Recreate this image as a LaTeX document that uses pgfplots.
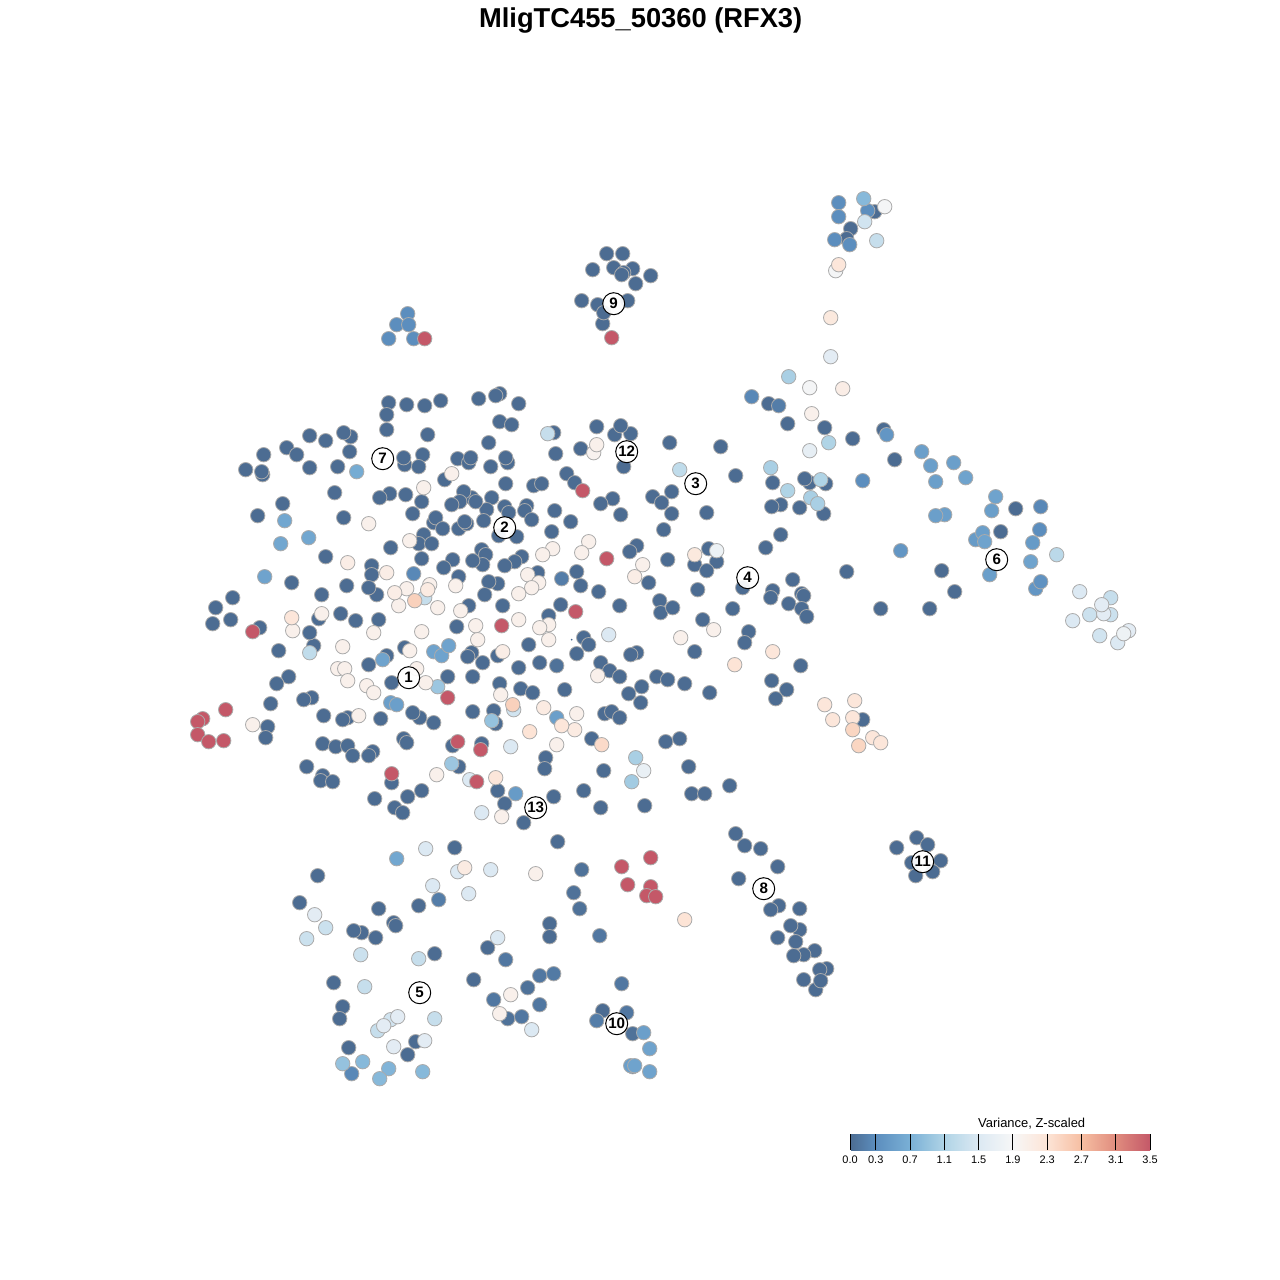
\documentclass[border=0pt]{standalone}
\usepackage{fontspec}
\setmainfont{Liberation Sans}
\usepackage{pgfplots}
\usepackage{pgfplotstable}
\pgfplotsset{compat=1.18}
\pgfplotstableread{
x y v
606 253 0
622 253 0
592 269 0
613 267 0
632 268 0
623 272 0
621 274 0
650 275 0
635 283 0
581 300 0
597 304 0
627 300 0
602 323 0
603 312 0
874 211 0
850 228 0
846 238 0
768 403 0
787 423 0
824 427 0
852 438 0
883 429 0
894 459 0
772 482 0
809 482 0
825 483 0
804 478 0
780 504 0
771 506 0
799 507 0
823 513 0
780 534 0
765 547 0
1015 508 0
1000 531 0
846 571 0
941 570 0
954 591 0
792 579 0
772 590 0
770 597 0
801 593 0
803 595 0
788 603 0
801 608 0
806 616 0
880 608 0
929 608 0
742 587 0
748 631 0
744 642 0
518 403 0
499 393 0
495 395 0
478 398 0
499 421 0
511 424 0
488 442 0
553 432 0
596 426 0
614 434 0
630 433 0
620 425 0
580 448 0
555 453 0
669 442 0
720 446 0
490 466 0
507 462 0
505 457 0
623 466 0
566 473 0
574 482 0
735 475 0
505 483 0
533 485 0
541 483 0
671 491 0
652 496 0
661 502 0
612 498 0
600 503 0
491 497 0
504 506 0
508 512 0
526 505 0
524 510 0
554 510 0
620 514 0
671 513 0
706 512 0
486 509 0
483 520 0
570 521 0
531 519 0
663 529 0
551 531 0
516 536 0
498 535 0
636 545 0
629 551 0
708 548 0
667 559 0
694 564 0
716 561 0
706 570 0
521 556 0
514 561 0
504 565 0
481 549 0
485 554 0
482 564 0
472 560 0
537 572 0
576 571 0
580 585 0
598 591 0
648 582 0
497 583 0
488 581 0
484 594 0
697 589 0
659 600 0
660 612 0
672 607 0
732 608 0
619 605 0
560 604 0
548 615 0
502 605 0
702 619 0
583 637 0
588 644 0
528 644 0
576 653 0
636 652 0
630 654 0
694 651 0
497 655 0
518 667 0
539 662 0
556 665 0.05
600 662 0
609 670 0
619 676 0
800 665 0
656 676 0
667 679 0
684 683 0
641 686 0
628 693 0
640 702 0
709 692 0
771 680 0
786 689 0
775 698 0
499 683 0
520 688 0
532 692 0
564 689 0
493 710 0
604 713 0
611 711 0
619 717 0
388 402 0
406 404 0
424 405 0
440 400 0
386 414 0
386 429 0
427 434 0
309 435 0
325 440 0
350 436 0
343 432 0
286 447 0
296 454 0
263 454 0
349 451 0
337 466 0
309 467 0
245 469 0
262 474 0
261 471 0
404 464 0
403 457 0
422 454 0
418 466 0
457 458 0
468 462 0
470 457 0
444 479 0
334 492 0
389 493 0
379 497 0
405 494 0
421 501 0
471 497 0
463 491 0
475 501 0
459 501 0
451 504 0
282 503 0
257 515 0
343 517 0
412 513 0
433 522 0
435 517 0
442 528 0
458 528 0
466 523 0
464 521 0
390 547 0
423 534 0
418 543 0
431 543 0
325 556 0
421 558 0
452 559 0
443 567 0
458 576 0
371 565 0
371 574 0
291 582 0
346 585 0
376 594 0
368 587 0
321 594 0
468 605 0
232 597 0
215 607 0
230 619 0
212 623 0
340 613 0
355 620 0
378 619 0
318 618 0
259 627 0
313 645 0
309 632 0
278 650 0
456 626 0
404 647 0
386 655 0
368 664 0
288 676 0
276 683 0
391 682 0
447 676 0
472 676 0
482 662 0
471 652 0
467 656 0
270 703 0
311 697 0
303 699 0
323 715 0
347 717 0
342 719 0
380 718 0
419 717 0
412 712 0
433 722 0
472 711 0
267 726 0
265 737 0
322 743 0
335 746 0
347 745 0
352 755 0
372 751 0
368 755 0
403 738 0
406 742 0
306 766 0
322 775 0
320 780 0
332 781 0
391 782 0
374 798 0
407 796 0
421 790 0
394 807 0
402 812 0
452 745 0
481 743 0
458 766 0
495 723 0
591 738 0
545 757 0
544 768 0
665 741 0
679 738 0
603 770 0
688 766 0
497 790 0
583 790 0
691 793 0
704 793 0
600 807 0
644 805 0
553 796 0
504 803 0
523 822 0
557 841 0
729 785 0
454 847 0
581 869 0.05
573 892 0.05
579 908 0.05
317 875 0
299 902 0
378 908 0
418 905 0
361 932 0
353 930 0
375 937 0
393 922 0
395 925 0
434 953 0
487 947 0
549 923 0
549 936 0
505 959 0.1
333 982 0
473 979 0
342 1006 0
339 1018 0
539 975 0.1
553 973 0.12
527 987 0.05
493 999 0.1
539 1004 0.1
507 1018 0.05
521 1016 0.1
415 1041 0
407 1054 0
348 1047 0
599 935 0.1
621 983 0.1
602 1010 0
626 1012 0.1
632 1033 0.05
632 1066 0
862 719 0
735 833 0
744 845 0
760 848 0
777 866 0
738 878 0
778 905 0
770 909 0
799 908 0
799 929 0
790 925 0
777 937 0
795 941 0
814 950 0
803 954 0
793 955 0
826 968 0
819 969 0
803 979 0
815 989 0
820 980 0
896 847 0
916 837 0
927 844 0
940 860 0
911 862 0
932 871 0
915 875 0
438 899 0.15
596 1020 0.15
351 1073 0.25
413 573 0.25
561 578 0.15
778 405 0.15
751 396 0.25
849 244 0.3
834 239 0.3
838 202 0.3
838 216 0.3
867 210 0.3
407 313 0.3
396 324 0.3
408 324 0.3
388 338 0.3
413 338 0.3
862 480 0.3
1040 506 0.25
1039 529 0.3
1035 588 0.4
1040 581 0.35
886 434 0.4
900 550 0.4
975 539 0.45
1032 542 0.45
515 793 0.45
921 451 0.5
930 465 0.5
953 462 0.5
935 481 0.5
944 514 0.5
935 515 0.5
991 510 0.5
982 532 0.5
989 574 0.5
556 717 0.5
390 702 0.5
396 704 0.5
630 1065 0.5
643 1032 0.5
264 576 0.55
965 477 0.55
995 496 0.55
984 541 0.55
1030 561 0.55
433 651 0.55
441 655 0.55
448 645 0.55
382 659 0.55
634 1065 0.55
649 1048 0.55
649 1071 0.55
284 520 0.6
280 543 0.6
308 537 0.6
396 858 0.6
356 471 0.65
388 1068 0.75
362 1061 0.8
863 198 0.8
379 1078 0.8
422 1071 0.8
491 720 0.9
342 1063 0.9
451 763 0.95
437 686 0.95
631 781 1.0
635 757 1.05
788 376 1.05
770 467 1.05
810 497 1.05
817 503 1.05
787 490 1.1
820 479 1.1
828 442 1.1
1056 554 1.2
679 469 1.25
309 652 1.25
876 240 1.3
547 433 1.3
424 597 1.3
418 958 1.3
364 986 1.3
434 1018 1.3
377 1030 1.3
1110 597 1.3
1110 614 1.35
1089 614 1.35
325 927 1.35
306 938 1.35
360 954 1.35
864 221 1.4
513 709 1.4
390 1019 1.4
1099 635 1.4
1079 591 1.5
1072 620 1.5
1117 642 1.5
608 634 1.5
510 746 1.5
469 779 1.5
481 812 1.5
425 848 1.5
457 871 1.5
490 869 1.5
432 885 1.5
468 893 1.5
497 937 1.5
531 1029 1.5
830 356 1.6
1103 613 1.6
1101 604 1.6
1128 630 1.6
314 914 1.6
397 1016 1.6
383 1025 1.6
393 1046 1.6
424 1040 1.6
809 450 1.65
643 770 1.7
1123 633 1.75
716 550 1.75
835 270 1.85
809 387 1.85
884 206 1.85
593 452 2.0
423 487 2.05
451 473 2.05
368 523 2.05
409 540 2.05
552 548 2.05
542 554 2.05
588 541 2.05
581 552 2.05
527 574 2.05
538 582 2.05
531 587 2.05
518 593 2.05
455 585 2.05
429 584 2.05
406 588 2.05
398 605 2.05
437 607 2.05
460 610 2.05
321 613 2.05
292 630 2.05
373 632 2.05
421 631 2.05
342 646 2.05
475 625 2.05
477 639 2.05
518 619 2.05
548 624 2.05
539 627 2.05
548 639 2.05
409 650 2.05
416 668 2.05
337 668 2.05
344 668 2.05
347 680 2.05
366 685 2.05
373 692 2.05
425 682 2.05
500 694 2.05
252 724 2.05
358 715 2.05
597 675 2.05
642 564 2.05
680 637 2.05
713 629 2.05
576 713 2.05
556 744 2.05
436 774 2.05
501 816 2.05
535 873 2.05
510 994 2.05
499 1013 2.05
596 444 2.05
811 413 2.05
842 388 2.1
347 562 2.1
386 572 2.1
634 576 2.1
502 651 2.1
394 592 2.1
427 589 2.15
543 707 2.15
574 729 2.15
464 867 2.15
694 554 2.2
830 317 2.2
838 264 2.25
291 617 2.25
772 651 2.25
561 725 2.25
495 777 2.25
824 704 2.25
854 700 2.25
832 719 2.25
852 717 2.25
872 737 2.25
880 742 2.25
529 731 2.3
684 919 2.3
734 664 2.3
601 744 2.4
852 729 2.45
858 745 2.45
414 600 2.5
512 704 2.5
424 338 3.5
611 337 3.5
582 490 3.5
606 558 3.5
575 611 3.5
501 625 3.5
252 631 3.5
447 697 3.5
225 709 3.5
202 718 3.5
197 721 3.5
197 734 3.5
208 741 3.5
223 740 3.5
391 773 3.5
457 741 3.5
480 749 3.5
476 781 3.5
621 866 3.5
650 857 3.5
627 884 3.5
650 886 3.5
646 895 3.5
655 896 3.5
}\cells
\pgfplotstableread{
x y n
408 677 1
504 527 2
695 483 3
747 577 4
419 992 5
996 559 6
382 458 7
763 888 8
613 303 9
616 1023 10
922 861 11
626 451 12
535 807 13
}\labelstable
\begin{document}
\begin{tikzpicture}
\useasboundingbox (0,0) rectangle (640bp,640bp);
\begin{axis}[
  at={(0,0)}, anchor=south west,
  scale only axis, width=640bp, height=640bp,
  xmin=-0.7, xmax=1279.3, ymin=-0.7, ymax=1279.3, y dir=reverse,
  hide axis, clip=false,
  colormap={rvar}{
    rgb255(0)=(76,108,146) rgb255(3)=(92,142,190) rgb255(7)=(122,176,214)
    rgb255(11)=(176,212,230) rgb255(15)=(220,233,243) rgb255(19)=(247,247,247)
    rgb255(23)=(253,228,214) rgb255(27)=(246,190,162) rgb255(31)=(224,140,126)
    rgb255(35)=(196,88,104)},
  point meta min=0, point meta max=3.5,
  colorbar horizontal,
  colorbar style={
    at={(0.6641,0.11406)}, anchor=north west,
    width=150bp, height=8bp, scale only axis,
    xtick={0,0.3,0.7,1.1,1.5,1.9,2.3,2.7,3.1,3.5},
    xticklabels={0.0,0.3,0.7,1.1,1.5,1.9,2.3,2.7,3.1,3.5},
    xticklabel style={font=\fontsize{5.5}{6}\selectfont, inner sep=0pt, yshift=-2.8bp},
    xtick align=inside, major tick length=8bp,
    xtick pos=bottom, ytick=\empty,
    axis line style={draw=none},
    xtick style={black, line width=0.45bp},
  },
]
\addplot[scatter, only marks, scatter src=explicit, mark=*, mark size=3.6bp,
  scatter/use mapped color={draw=black!33, fill=mapped color, line width=0.4bp}]
  table[x=x, y=y, meta=v] {\cells};
\addplot[only marks, mark=*, mark size=0.2bp, color={rgb,255:red,74;green,106;blue,144}]
  coordinates {(571,639)};
\addplot[only marks, mark=none,
  nodes near coords={\bfseries\fontsize{7.6}{8}\selectfont\pgfplotspointmeta},
  point meta=explicit symbolic,
  every node near coord/.style={circle, draw=black, fill=white, fill opacity=0.93,
    text opacity=1, line width=0.5bp, minimum size=11bp, inner sep=0pt, anchor=center}]
  table[x=x, y=y, meta=n] {\labelstable};
\node[font=\bfseries\fontsize{13.7}{16}\selectfont] at (axis cs:640,20) {MligTC455\_50360 (RFX3)};
\node[font=\fontsize{6.5}{7}\selectfont] at (axis cs:1031,1123) {Variance, Z-scaled};
\end{axis}
\end{tikzpicture}
\end{document}
